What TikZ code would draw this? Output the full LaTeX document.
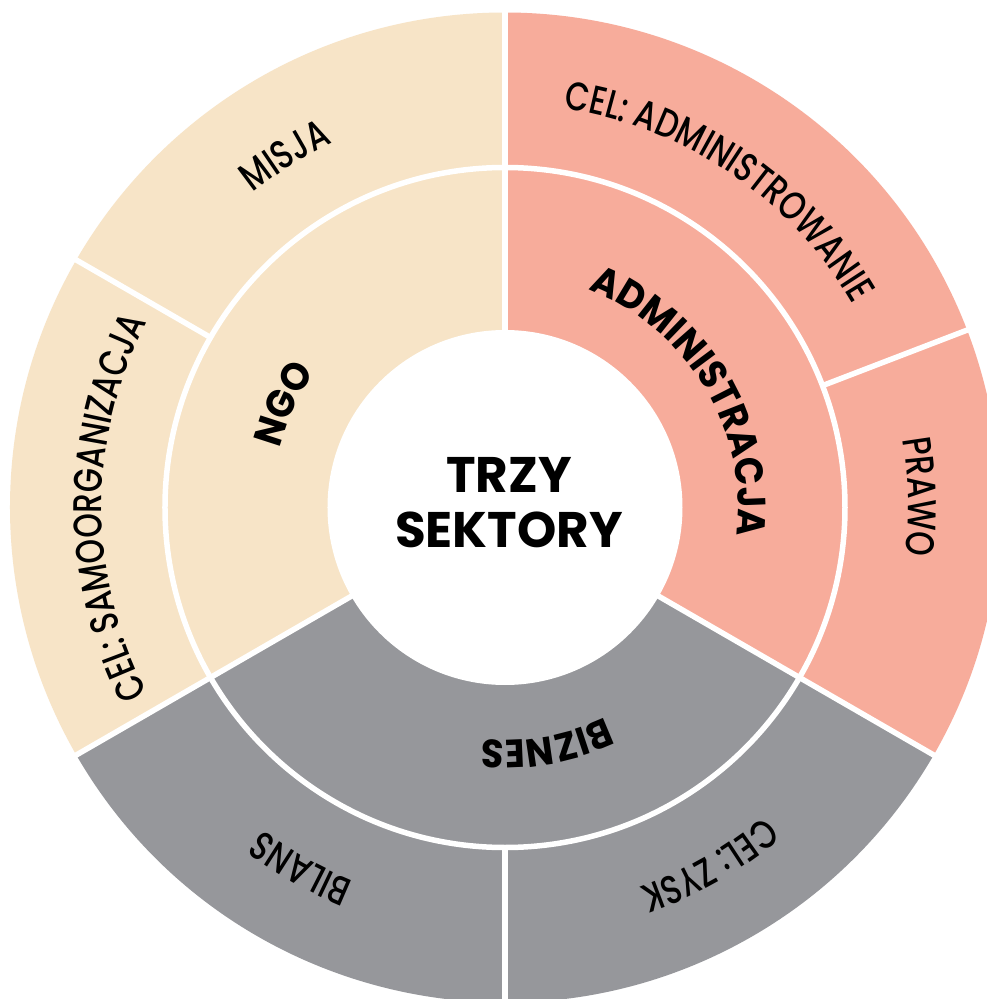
\documentclass[tikz,border=0pt]{standalone}
\usepackage{fontspec}
\setmainfont{Poppins}
\newfontfamily\ringfont[UprightFont=* Medium,FakeStretch=0.78]{Poppins}
\newfontfamily\sectorfont[UprightFont=* Bold,FakeStretch=0.93]{Poppins}
\usetikzlibrary{decorations.text}

\definecolor{ngo}{HTML}{F7E4C7}
\definecolor{adm}{HTML}{F7AC9B}
\definecolor{biz}{HTML}{96979B}

\tikzset{
	gap/.style={white,line width=5.5pt},
	outertext/.style={decorate,decoration={text along path,text align=center,
		text={|\fontsize{40}{48}\selectfont\ringfont|#1}}},
	innertext/.style={decorate,decoration={text along path,text align=center,
		text={|\fontsize{39.5}{46}\selectfont\sectorfont|#1}}},
}

% label running clockwise round the centre, tops outwards
\newcommand\arclabel[4]{%
	\path[#1={#4}] ({#2+60}:#3) arc[start angle={#2+60},end angle={#2-60},radius=#3];}

\begin{document}
\begin{tikzpicture}
	\fill[white] (-505pt,-491.5pt) rectangle (482pt,507.5pt);
	\useasboundingbox (-505pt,-491.5pt) rectangle (482pt,507.5pt);
	\clip (-505pt,-491.5pt) rectangle (482pt,507.5pt);

	% three sectors
	\fill[ngo] (0,0) -- (90:495pt) arc[start angle=90,end angle=210,radius=495pt] -- cycle;
	\fill[biz] (0,0) -- (210:495pt) arc[start angle=210,end angle=330,radius=495pt] -- cycle;
	\fill[adm] (0,0) -- (-30:495pt) arc[start angle=-30,end angle=90,radius=495pt] -- cycle;

	% white gaps
	\foreach \a in {90,210,330}
		\draw[gap] (0,0) -- (\a:500pt);
	\foreach \a in {150,270,21}
		\draw[gap] (\a:340pt) -- (\a:500pt);
	\draw[gap] (0,0) circle[radius=340pt];
	\fill[white] (0,0) circle[radius=177.5pt];

	\node[font=\fontsize{50}{55}\selectfont\bfseries,align=center] (title) at (4pt,4.5pt) {TRZY\\SEKTORY};

	% inner ring
	\arclabel{innertext}{155}{233pt}{NGO}
	\arclabel{innertext}{31}{233pt}{ADMINISTRACJA}
	\arclabel{innertext}{280}{233pt}{BIZNES}

	% outer ring
	\arclabel{outertext}{122}{403pt}{MISJA}
	\arclabel{outertext}{180}{403pt}{CEL: SAMOORGANIZACJA}
	\arclabel{outertext}{56}{403pt}{CEL: ADMINISTROWANIE}
	\arclabel{outertext}{1.5}{403pt}{PRAWO}
	\arclabel{outertext}{240.5}{403pt}{BILANS}
	\arclabel{outertext}{299.7}{403pt}{CEL: ZYSK}
\end{tikzpicture}
\end{document}
